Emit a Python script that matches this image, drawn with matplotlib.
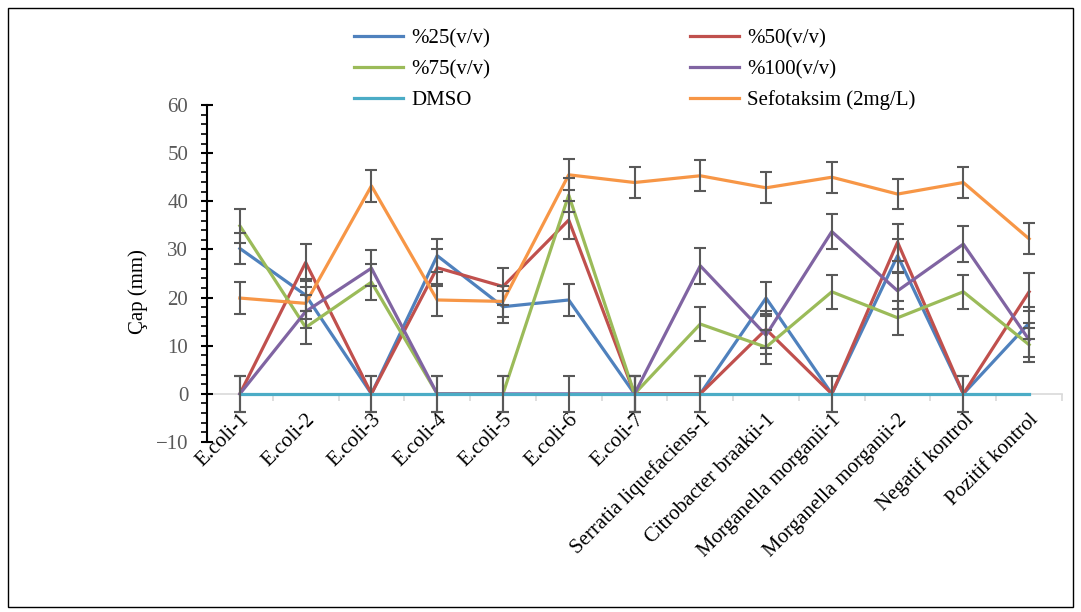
import matplotlib
matplotlib.use("Agg")
import matplotlib.pyplot as plt
from matplotlib.ticker import MultipleLocator, FixedLocator
from matplotlib.patches import Rectangle
import numpy as np

categories = ["E.coli-1", "E.coli-2", "E.coli-3", "E.coli-4", "E.coli-5", "E.coli-6",
              "E.coli-7", "Serratia liquefaciens-1", "Citrobacter braakii-1",
              "Morganella morganii-1", "Morganella morganii-2", "Negatif kontrol",
              "Pozitif kontrol"]

v25 = [30.2, 20.5, 0, 28.7, 18.1, 19.5, 0, 0, 19.9, 0, 28.7, 0, 14.7]
e25 = [3.3, 3.3, 3.7, 3.4, 3.3, 3.3, 3.7, 3.7, 3.4, 3.7, 3.4, 3.7, 3.4]
v50 = [0, 27.3, 0, 26.2, 22.3, 36.1, 0, 0, 13.4, 0, 31.5, 0, 21.2]
e50 = [3.7, 3.8, 3.7, 3.8, 3.8, 3.9, 3.7, 3.7, 3.8, 3.7, 3.8, 3.7, 3.9]
v75 = [34.9, 13.8, 23.2, 0, 0, 41.3, 0, 14.5, 9.7, 21.2, 15.8, 21.2, 10.2]
e75 = [3.5, 3.5, 3.7, 3.7, 3.7, 3.5, 3.7, 3.5, 3.5, 3.5, 3.5, 3.5, 3.5]
v100 = [0, 17.1, 26.1, 0, 0, 0, 0, 26.6, 12.2, 33.7, 21.4, 31.1, 11.2]
e100 = [3.7, 3.5, 3.7, 3.7, 3.7, 3.7, 3.7, 3.7, 3.9, 3.7, 3.7, 3.7, 3.5]
vdmso = [0, 0, 0, 0, 0, 0, 0, 0, 0, 0, 0, 0, 0]
vsef = [19.9, 18.8, 43.2, 19.5, 19.2, 45.5, 43.9, 45.3, 42.8, 45.0, 41.5, 43.9, 32.2]
esef = [3.3, 3.3, 3.3, 3.3, 3.3, 3.2, 3.2, 3.2, 3.2, 3.2, 3.2, 3.2, 3.2]

labels = ["%25(v/v)", "%50(v/v)", "%75(v/v)", "%100(v/v)", "DMSO", "Sefotaksim (2mg/L)"]
colors = ["#4F81BD", "#C0504D", "#9BBB59", "#8064A2", "#4BACC6", "#F79646"]

plt.rcParams['font.family'] = ['Liberation Serif', 'DejaVu Serif']
FS = 15

fig = plt.figure(figsize=(10.81, 6.12), dpi=100)
ax = fig.add_axes([207/1081, 1-442/612, (1062-207)/1081, (442-105)/612])

x = np.arange(len(categories))
series = [(v25, e25), (v50, e50), (v75, e75), (v100, e100), (vdmso, None), (vsef, esef)]
handles = []
for (vals, errs), lab, col in zip(series, labels, colors):
    ln, = ax.plot(x, vals, color=col, lw=2.3, label=lab, zorder=3)
    if errs is not None:
        ax.errorbar(x, vals, yerr=errs, fmt='none', ecolor='#595959', elinewidth=1.5,
                    capsize=4, capthick=1.5, zorder=4)
    handles.append(ln)

ax.set_xlim(-0.5, 12.5)
ax.set_ylim(-10, 60)

for s in ['top', 'right']:
    ax.spines[s].set_visible(False)
ax.spines['left'].set_color('black')
ax.spines['left'].set_linewidth(1.5)
ax.spines['bottom'].set_position(('data', 0))
ax.spines['bottom'].set_color('#d9d9d9')
ax.spines['bottom'].set_linewidth(1.2)
ax.spines['bottom'].set_zorder(1)

ax.yaxis.set_major_locator(MultipleLocator(10))
ax.yaxis.set_minor_locator(MultipleLocator(2))
ax.tick_params(axis='y', which='major', direction='inout', length=9, width=1.5,
               color='black', labelcolor='#595959', labelsize=FS, pad=9)
ax.tick_params(axis='y', which='minor', direction='out', length=4, width=1.2, color='black')

ax.set_xticks(x)
ax.set_xticklabels(categories, rotation=45, ha='right', va='top', rotation_mode='anchor',
                   fontsize=FS)
ax.xaxis.set_minor_locator(FixedLocator(np.arange(-0.5, 13, 1)))
ax.tick_params(axis='x', which='major', length=0, pad=12)
ax.tick_params(axis='x', which='minor', direction='out', length=5, width=1.2, color='#d9d9d9')

ax.set_ylabel("Çap (mm)", fontsize=FS, color='black')
ax.yaxis.set_label_coords(-0.069, 0.445)

order = [0, 2, 4, 1, 3, 5]
leg = fig.legend([handles[i] for i in order], [labels[i] for i in order],
                 loc='upper left', bbox_to_anchor=(354/1081, 1-29/612), ncol=2,
                 frameon=False, fontsize=FS, handlelength=2.35, handletextpad=0.38,
                 columnspacing=9.6, labelspacing=0.53, borderpad=0, borderaxespad=0)

fig.patches.append(Rectangle((8/1081, 1-607/612), (1073-8)/1081, (607-8)/612,
                             transform=fig.transFigure, fill=False, edgecolor='black',
                             linewidth=1.0))

fig.savefig("out.png", dpi=100)
